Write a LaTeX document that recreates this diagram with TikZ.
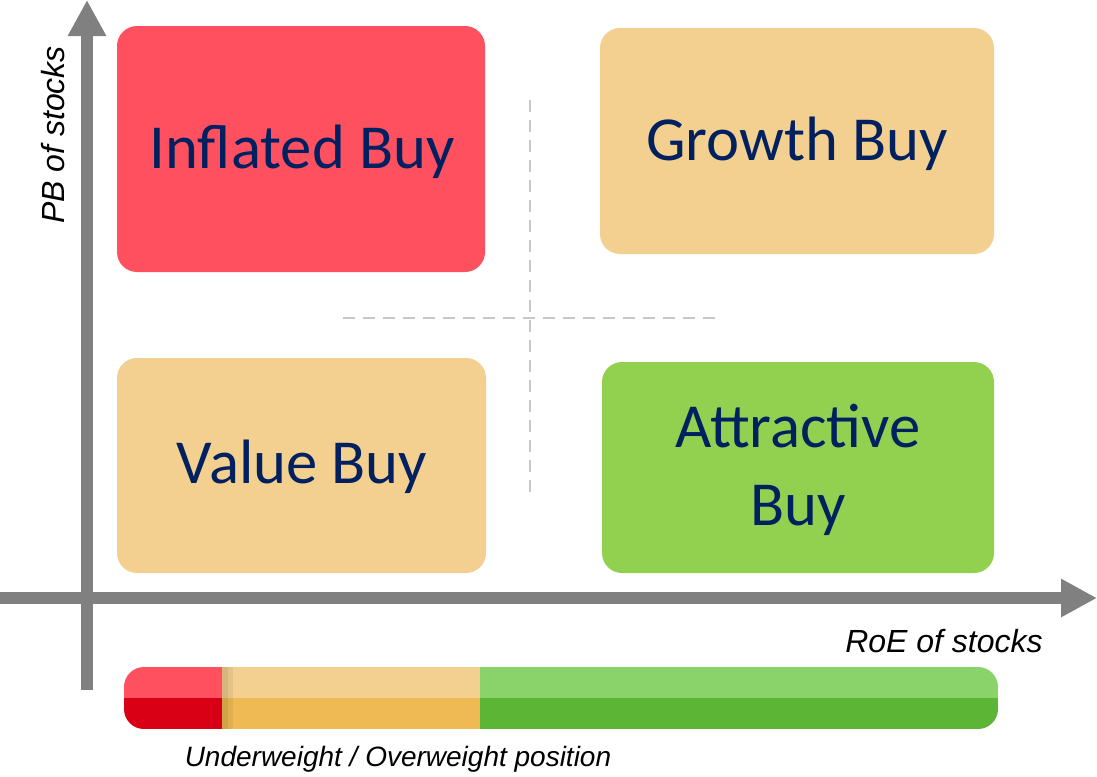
\documentclass[tikz,border=0pt]{standalone}
\usepackage{fontspec}
\setmainfont{Carlito}
\newfontfamily\arialf{Liberation Sans}
\usetikzlibrary{arrows.meta,shadows}
\definecolor{redbox}{HTML}{FF5060}
\definecolor{orbox}{HTML}{F3D08F}
\definecolor{grbox}{HTML}{92D050}
\definecolor{navy}{HTML}{002060}
\definecolor{axisgray}{HTML}{808080}
\definecolor{dashgray}{HTML}{C8C8C8}
\definecolor{redtop}{HTML}{FF5060}
\definecolor{redbot}{HTML}{D90015}
\definecolor{ortop}{HTML}{F3D08F}
\definecolor{orbot}{HTML}{EFBA53}
\definecolor{grtop}{HTML}{8AD36A}
\definecolor{grbot}{HTML}{5DB535}
\tikzset{
  quad/.style={rounded corners=14pt, inner sep=0pt, text=navy, font=\fontsize{47}{58}\selectfont, align=center},
  axisline/.style={draw=axisgray, line width=8.5pt, -{Triangle[width=27pt,length=27pt]}},
  guide/.style={draw=dashgray, line width=1.3pt, dash pattern=on 9pt off 6pt},
  axlabel/.style={font=\arialf\itshape\fontsize{24}{28}\selectfont, inner sep=0pt},
  poslabel/.style={font=\arialf\itshape\fontsize{21}{25}\selectfont, inner sep=0pt}
}
\begin{document}
\begin{tikzpicture}[x=0.75pt,y=-0.75pt]
\useasboundingbox (0,0) rectangle (1097,776);
% guides
\draw[guide] (530,100) -- (530,500);
\draw[guide] (343,318) -- (718,318);
% quadrant boxes
\path[fill=redbox, rounded corners=15pt] (117,26) rectangle (485,272);
\node[quad] (inflated) at (302,152) {Inflated Buy};
\path[fill=orbox, rounded corners=15pt] (600,28) rectangle (994,254);
\node[quad] (growth) at (797,144) {Growth Buy};
\path[fill=orbox, rounded corners=15pt] (117,358) rectangle (486,573);
\node[quad] (value) at (302,467) {Value Buy};
\path[fill=grbox, rounded corners=15pt] (602,362) rectangle (994,573);
\node[quad] (attractive) at (798,470) {Attractive\\Buy};
% axes
\coordinate (yfrom) at (87,690);
\coordinate (yto) at (87,0);
\coordinate (xfrom) at (0,598);
\coordinate (xto) at (1097,598);
\draw[axisline] (yfrom) -- (yto);
\draw[axisline] (xfrom) -- (xto);
\node[axlabel, rotate=90] (pb) at (53,135) {PB of stocks};
\node[axlabel] (roe) at (944,641) {RoE of stocks};
% bottom bar
\begin{scope}
\clip[rounded corners=15pt] (124,667) rectangle (998,729);
\fill[grtop] (470,667) rectangle (998,698);
\fill[grbot] (470,698) rectangle (998,729);
\fill[ortop] (222,667) rectangle (480,698);
\fill[orbot] (222,698) rectangle (480,729);
\fill[black, opacity=0.12] (222,667) rectangle (228,729);
\fill[black, opacity=0.06] (228,667) rectangle (233,729);
\fill[redtop] (124,667) rectangle (222,698);
\fill[redbot] (124,698) rectangle (222,729);
\end{scope}
\node[poslabel] (pos) at (398,759) {Underweight / Overweight position};
\end{tikzpicture}
\end{document}
